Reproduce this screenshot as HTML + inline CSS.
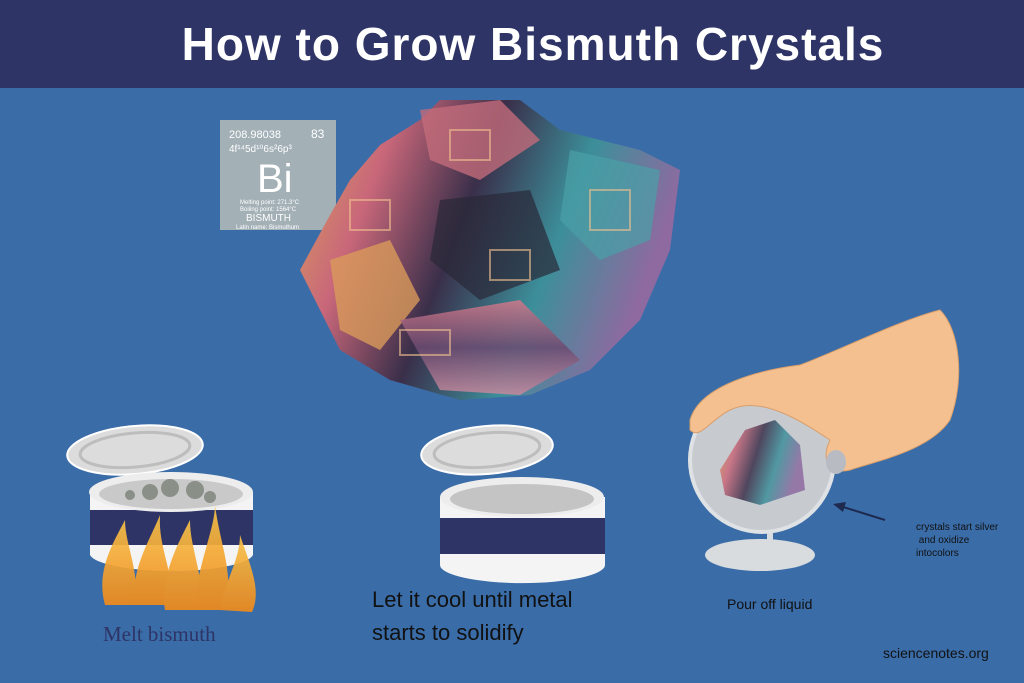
<!DOCTYPE html>
<html><head><style>
body{margin:0;width:1024px;height:683px;overflow:hidden;background:#3a6ca8;font-family:"Liberation Sans",sans-serif;position:relative}
.hdr{position:absolute;left:0;top:0;width:982px;padding-left:42px;height:88px;background:#2e3566;color:#fff;font-weight:bold;font-size:46px;text-align:center;line-height:88px;letter-spacing:1px}
.t{position:absolute;color:#111}
</style></head><body>
<div class="hdr">How to Grow Bismuth Crystals</div>
<svg width="1024" height="683" style="position:absolute;left:0;top:0">
<defs>
<linearGradient id="cr" x1="0" y1="0" x2="1" y2="0.3">
<stop offset="0" stop-color="#d9a657"/><stop offset="0.25" stop-color="#c9677a"/><stop offset="0.5" stop-color="#3a2f4a"/><stop offset="0.75" stop-color="#3c8f9a"/><stop offset="1" stop-color="#8e6aa0"/></linearGradient>
<linearGradient id="cr2" x1="0" y1="0" x2="0" y2="1">
<stop offset="0" stop-color="#d27a8a"/><stop offset="0.5" stop-color="#6b4a70"/><stop offset="1" stop-color="#c98a9e"/></linearGradient>
<linearGradient id="fl" x1="0" y1="0" x2="0" y2="1"><stop offset="0" stop-color="#f7c24a"/><stop offset="1" stop-color="#f08a1c"/></linearGradient>
</defs>
<rect x="220" y="120" width="116" height="110" fill="#a3b0b6"/>
<text x="229" y="138" fill="#fff" font-size="11">208.98038</text><text x="311" y="138" fill="#fff" font-size="12">83</text>
<text x="229" y="152" fill="#fff" font-size="10">4f¹⁴5d¹⁰6s²6p³</text>
<text x="257" y="192" fill="#fff" font-size="40">Bi</text>
<text x="240" y="204" fill="#fff" font-size="6">Melting point: 271.3°C</text>
<text x="240" y="211" fill="#fff" font-size="6">Boiling point: 1564°C</text>
<text x="246" y="221" fill="#fff" font-size="10">BISMUTH</text>
<text x="236" y="229" fill="#fff" font-size="6">Latin name: Bismuthum</text>
<polygon points="300,270 330,215 350,180 380,145 420,120 440,100 520,100 560,130 600,140 640,150 680,170 670,250 640,320 590,370 530,395 460,400 390,380 340,350 320,310" fill="url(#cr)"/>
<polygon points="330,260 390,240 420,300 380,350 340,330" fill="#d99a5a" opacity="0.8"/>
<polygon points="420,110 500,100 540,140 480,180 430,160" fill="#c26b7a" opacity="0.8"/>
<polygon points="570,150 660,170 650,240 600,260 560,220" fill="#4aa0a6" opacity="0.7"/>
<polygon points="400,320 520,300 580,360 520,395 440,390" fill="url(#cr2)" opacity="0.85"/>
<polygon points="440,200 530,190 560,270 480,300 430,260" fill="#2a2838" opacity="0.7"/>
<g fill="none" stroke="#f0c090" stroke-width="2" opacity="0.6">
<rect x="350" y="200" width="40" height="30"/><rect x="450" y="130" width="40" height="30"/><rect x="590" y="190" width="40" height="40"/><rect x="490" y="250" width="40" height="30"/><rect x="400" y="330" width="50" height="25"/>
</g>
<ellipse cx="135" cy="450" rx="68" ry="24" fill="#dcdcdc" stroke="#fff" stroke-width="2" transform="rotate(-5 135 450)"/>
<ellipse cx="135" cy="450" rx="55" ry="17" fill="none" stroke="#bdbdbd" stroke-width="3" transform="rotate(-5 135 450)"/>
<path d="M90,492 L90,555 A82,18 0 0 0 253,555 L253,492 Z" fill="#f4f4f4"/>
<rect x="90" y="510" width="163" height="35" fill="#2e3566"/>
<ellipse cx="171" cy="492" rx="82" ry="20" fill="#ededed"/>
<ellipse cx="171" cy="494" rx="72" ry="15" fill="#c9c9c9"/>
<g fill="#8a8f88"><circle cx="150" cy="492" r="8"/><circle cx="170" cy="488" r="9"/><circle cx="195" cy="490" r="9"/><circle cx="130" cy="495" r="5"/><circle cx="210" cy="497" r="6"/></g>
<g fill="url(#fl)" opacity="0.92">
<path d="M105,605 C95,570 115,540 125,520 C125,545 140,570 135,605 Z"/>
<path d="M135,605 C130,570 150,540 160,515 C158,550 175,570 170,605 Z"/>
<path d="M165,610 C160,575 180,540 190,520 C190,550 205,575 200,610 Z"/>
<path d="M195,610 C195,570 215,530 215,505 C220,545 235,575 225,610 Z"/>
<path d="M220,610 C225,580 240,560 240,535 C250,565 262,590 252,612 Z"/>
</g>
<ellipse cx="487" cy="450" rx="66" ry="24" fill="#dcdcdc" stroke="#fff" stroke-width="2" transform="rotate(-5 487 450)"/>
<ellipse cx="487" cy="450" rx="53" ry="17" fill="none" stroke="#bdbdbd" stroke-width="3" transform="rotate(-5 487 450)"/>
<path d="M440,497 L440,565 A82,18 0 0 0 605,565 L605,497 Z" fill="#f4f4f4"/>
<rect x="440" y="518" width="165" height="36" fill="#2e3566"/>
<ellipse cx="522" cy="497" rx="82" ry="20" fill="#ededed"/>
<ellipse cx="522" cy="499" rx="72" ry="15" fill="#c4c4c4"/>
<ellipse cx="760" cy="555" rx="55" ry="16" fill="#d9dcdf"/>
<rect x="767" y="510" width="6" height="50" fill="#d9dcdf"/>
<circle cx="762" cy="460" r="72" fill="#c7cbd0" stroke="#dfe2e5" stroke-width="4"/>
<polygon points="720,470 745,430 775,420 800,445 805,490 760,505 725,495" fill="url(#cr)" opacity="0.85"/>
<path d="M690,420 C700,385 760,370 800,365 C840,350 900,320 940,310 C960,330 965,380 950,420 C930,450 880,460 850,470 C830,475 820,460 830,440 C800,420 760,395 730,410 C710,420 700,440 690,430 Z" fill="#f4c08f" stroke="#d89f6c" stroke-width="1"/>
<ellipse cx="836" cy="462" rx="10" ry="12" fill="#b8bcc2"/>
<line x1="885" y1="520" x2="840" y2="506" stroke="#1e2a50" stroke-width="2"/>
<polygon points="833,504 846,502 843,512" fill="#1e2a50"/>
</svg>
<div class="t" style="left:103px;top:622px;font-family:'Liberation Serif',serif;font-size:21px;color:#2e3566">Melt bismuth</div>
<div class="t" style="left:372px;top:583px;font-size:22px;line-height:33px">Let it cool until metal<br>starts to solidify</div>
<div class="t" style="left:727px;top:596px;font-size:14px">Pour off liquid</div>
<div class="t" style="left:916px;top:521px;font-size:10px;line-height:13px">crystals start silver<br>&nbsp;and oxidize<br>intocolors</div>
<div class="t" style="left:883px;top:645px;font-size:14px">sciencenotes.org</div>
</body></html>
